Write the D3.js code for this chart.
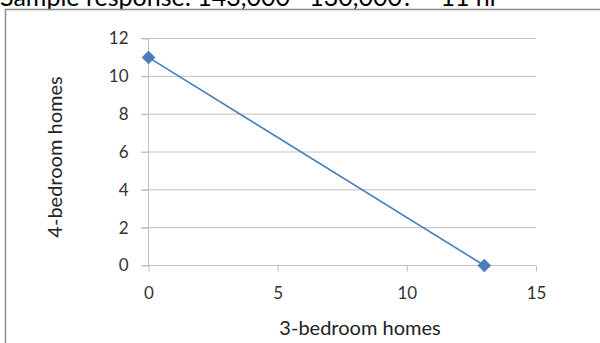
<!DOCTYPE html>
<html><head><meta charset="utf-8">
<script src="https://cdn.jsdelivr.net/npm/d3@7"></script>
<style>body{margin:0;background:#fff;}svg{display:block;}</style>
</head><body>
<script>
const xValues = [0, 13];
const yValues = [11, 0];
const xTicks = [0, 5, 10, 15];
const yTicks = [0, 2, 4, 6, 8, 10, 12];
const xTitle = "3-bedroom homes";
const yTitle = "4-bedroom homes";
const headerText = "Sample response: 143,000 · 130,000? = 11 hr";

const W = 600, H = 343;
const svg = d3.select("body").append("svg").attr("width", W).attr("height", H);
const font = "Lato, 'Open Sans', sans-serif";

// header text cut off at top
svg.append("text").attr("x", 0).attr("y", 6).attr("font-family", font)
  .attr("font-size", 25).attr("fill", "#000").text(headerText);

// frame
svg.append("rect").attr("x", 5.5).attr("y", 9.5).attr("width", 620).attr("height", 360)
  .attr("fill", "#fff").attr("stroke", "#8c8c8c").attr("stroke-width", 1.5);

const x = d3.scaleLinear().domain([0, 15]).range([148.5, 536]);
const y = d3.scaleLinear().domain([0, 12]).range([265.5, 38.5]);

// gridlines
svg.append("g").selectAll("line").data(yTicks.filter(d => d > 0)).join("line")
  .attr("x1", x(0) - 7).attr("x2", x(15)).attr("y1", d => y(d)).attr("y2", d => y(d))
  .attr("stroke", "#bfbfbf").attr("stroke-width", 1);

// y axis
const yAxis = d3.axisLeft(y).tickValues(yTicks).tickSize(7).tickPadding(13);
const gy = svg.append("g").attr("transform", `translate(${x(0)},0)`).call(yAxis);
gy.select(".domain").attr("stroke", "#bfbfbf").attr("d", `M-7,${y(12)}H0V${y(0)}`);
gy.selectAll(".tick line").attr("stroke", "#bfbfbf");
gy.selectAll("text").attr("font-family", font).attr("font-size", 17).attr("fill", "#333");

// x axis
const xAxis = d3.axisBottom(x).tickValues(xTicks).tickSize(6).tickPadding(15);
const gx = svg.append("g").attr("transform", `translate(0,${y(0)})`).call(xAxis);
gx.select(".domain").attr("stroke", "#bfbfbf").attr("d", `M${x(0)-7},0H${x(15)}`);
gx.selectAll(".tick line").attr("stroke", "#bfbfbf");
gx.selectAll("text").attr("font-family", font).attr("font-size", 17).attr("fill", "#333");

// titles
svg.append("text").attr("x", 360).attr("y", 335).attr("text-anchor", "middle")
  .attr("font-family", font).attr("font-size", 20).attr("fill", "#222").text(xTitle);
svg.append("text").attr("transform", "translate(62,157) rotate(-90)").attr("text-anchor", "middle")
  .attr("font-family", font).attr("font-size", 20).attr("fill", "#222").text(yTitle);

const pts = xValues.map((v, i) => [v, yValues[i]]);
svg.append("path").datum(pts)
  .attr("d", d3.line().x(d => x(d[0])).y(d => y(d[1])))
  .attr("fill", "none").attr("stroke", "#4a7ebb").attr("stroke-width", 1.6);

svg.append("g").selectAll("path").data(pts).join("path")
  .attr("transform", d => `translate(${x(d[0])},${y(d[1])})`)
  .attr("d", "M0,-6.5L6.5,0L0,6.5L-6.5,0Z")
  .attr("fill", "#4a7ebb").attr("stroke", "#3f6ea8").attr("stroke-width", 0.5);
</script>
</body></html>
